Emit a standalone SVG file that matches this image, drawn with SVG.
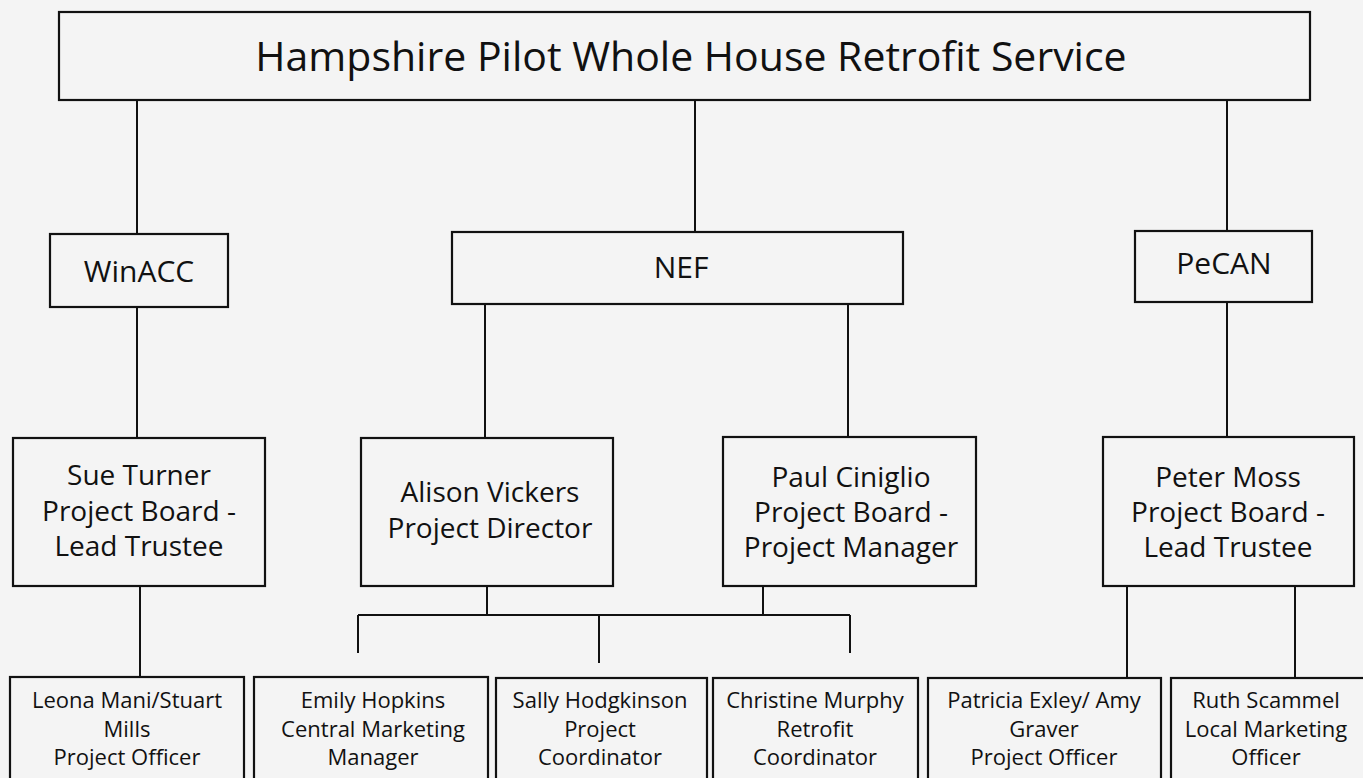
<svg xmlns="http://www.w3.org/2000/svg" width="1363" height="778" viewBox="0 0 1363 778">
<style>
.bg{fill:#f4f4f4}
.box{fill:none;stroke:#111;stroke-width:2.2}
.ln{stroke:#111;stroke-width:2;fill:none}
text{font-family:"Open Sans","Liberation Sans",sans-serif;fill:#111;text-anchor:middle}
.t0{font-size:41px}
.t1{font-size:30px}
.t2{font-size:28px}
.t3{font-size:22px}
</style>
<rect class="bg" x="0" y="0" width="1363" height="778"/>
<g id="connectors">
<path class="ln" d="M137 100V234M695 100V232M1227 100V231"/>
<path class="ln" d="M137 307V438M485 304V438M848 304V437M1227 302V437"/>
<path class="ln" d="M140 586V677M1127 586V678M1295 586V678"/>
<path class="ln" d="M487 586V615M763 586V615M358 615H850M358 615V653M599 615V663M850 615V653"/>
</g>
<g id="title"><rect class="box" x="59" y="12" width="1251" height="88"/><text class="t0" x="691" y="71">Hampshire Pilot Whole House Retrofit Service</text></g>
<g id="winacc"><rect class="box" x="50" y="234" width="178" height="73"/><text class="t1" x="139" y="282">WinACC</text></g>
<g id="nef"><rect class="box" x="452" y="232" width="451" height="72"/><text class="t1" x="681" y="278">NEF</text></g>
<g id="pecan"><rect class="box" x="1135" y="231" width="177" height="71"/><text class="t1" x="1224" y="274">PeCAN</text></g>
<g id="sue"><rect class="box" x="13" y="438" width="252" height="148"/><text class="t2" x="139" y="485">Sue Turner</text><text class="t2" x="139" y="521">Project Board -</text><text class="t2" x="139" y="556">Lead Trustee</text></g>
<g id="alison"><rect class="box" x="361" y="438" width="252" height="148"/><text class="t2" x="490" y="502">Alison Vickers</text><text class="t2" x="490" y="538">Project Director</text></g>
<g id="paul"><rect class="box" x="723" y="437" width="253" height="149"/><text class="t2" x="851" y="487">Paul Ciniglio</text><text class="t2" x="851" y="522">Project Board -</text><text class="t2" x="851" y="557">Project Manager</text></g>
<g id="peter"><rect class="box" x="1103" y="437" width="251" height="149"/><text class="t2" x="1228" y="487">Peter Moss</text><text class="t2" x="1228" y="522">Project Board -</text><text class="t2" x="1228" y="557">Lead Trustee</text></g>
<g id="leona"><rect class="box" x="10" y="677" width="234" height="120"/><text class="t3" x="127" y="708">Leona Mani/Stuart</text><text class="t3" x="127" y="737">Mills</text><text class="t3" x="127" y="765">Project Officer</text></g>
<g id="emily"><rect class="box" x="254" y="677" width="234" height="120"/><text class="t3" x="373" y="708">Emily Hopkins</text><text class="t3" x="373" y="737">Central Marketing</text><text class="t3" x="373" y="765">Manager</text></g>
<g id="sally"><rect class="box" x="496" y="678" width="211" height="120"/><text class="t3" x="600" y="708">Sally Hodgkinson</text><text class="t3" x="600" y="737">Project</text><text class="t3" x="600" y="765">Coordinator</text></g>
<g id="christine"><rect class="box" x="713" y="678" width="205" height="120"/><text class="t3" x="815" y="708">Christine Murphy</text><text class="t3" x="815" y="737">Retrofit</text><text class="t3" x="815" y="765">Coordinator</text></g>
<g id="patricia"><rect class="box" x="928" y="678" width="233" height="120"/><text class="t3" x="1044" y="708">Patricia Exley/ Amy</text><text class="t3" x="1044" y="737">Graver</text><text class="t3" x="1044" y="765">Project Officer</text></g>
<g id="ruth"><rect class="box" x="1171" y="678" width="200" height="120"/><text class="t3" x="1266" y="708">Ruth Scammel</text><text class="t3" x="1266" y="737">Local Marketing</text><text class="t3" x="1266" y="765">Officer</text></g>
</svg>
